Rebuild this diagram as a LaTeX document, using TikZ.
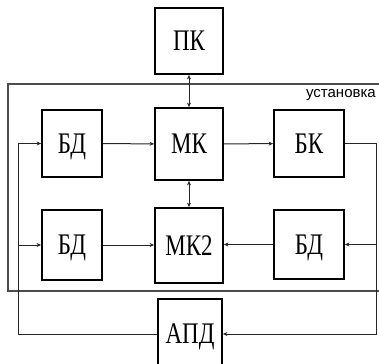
\documentclass[tikz,border=0pt]{standalone}
\usepackage{fontspec}
\setmainfont{Liberation Serif}
\newfontfamily\labfont{Liberation Sans}
\usetikzlibrary{arrows.meta}
\newcommand{\bt}[1]{\scalebox{1}[1.3]{#1}}
\begin{document}
\begin{tikzpicture}[x=1pt,y=-1pt,
  blk/.style={draw=black,line width=1.8pt,inner sep=0pt,text height=19.8pt,text depth=0pt,font=\fontsize{23}{26}\selectfont},
  con/.style={draw=black!85,line width=1pt},
  arr/.style={con,-{Stealth[length=4.5pt,width=4pt]}},
  dbl/.style={con,{Stealth[length=4.5pt,width=4pt]}-{Stealth[length=4.5pt,width=4pt]}}]
\useasboundingbox (0,0) rectangle (379,363);
\begin{scope}
\clip (0,0) rectangle (379,363);
\draw[draw=black!70,line width=1.2pt] (382,84) -- (8,84) -- (8,291) -- (382,291);
\node[blk,minimum width=68pt,minimum height=66pt] (pk) at (189,41) {\bt{ПК}};
\node[blk,minimum width=68pt,minimum height=72pt] (mk) at (189,144) {\bt{МК}};
\node[blk,minimum width=60pt,minimum height=67pt] (bd1) at (72,143.5) {\bt{БД}};
\node[blk,minimum width=70pt,minimum height=67pt] (bk) at (309,143.5) {\bt{БК}};
\node[blk,minimum width=60pt,minimum height=70pt] (bd2) at (72,245) {\bt{БД}};
\node[blk,minimum width=68pt,minimum height=75pt] (mk2) at (189,245.5) {\bt{МК2}};
\node[blk,minimum width=70pt,minimum height=69pt] (bd3) at (309,244.5) {\bt{БД}};
\node[blk,minimum width=64pt,minimum height=70pt] (apd) at (190,334) {\bt{АПД}};
\node[font=\labfont\fontsize{15}{16}\selectfont,anchor=east,inner sep=0pt] (lab) at (376,95) {установка};
\coordinate (R) at (376,0);
\coordinate (L) at (18,0);
\draw[dbl] (pk) -- (mk);
\draw[dbl] (mk) -- (mk2);
\draw[arr] (bd1) -- (mk);
\draw[arr] (mk) -- (bk);
\draw[arr] (bd2.east) -- (bd2.east -| mk2.west);
\draw[arr] (bd3.west) -- (bd3.west -| mk2.east);
\draw[arr] (bk.east) -- (bk.east -| R) -- (R |- apd.east) -- (apd.east);
\draw[arr] (R |- bd3.east) -- (bd3.east);
\draw[arr] (apd.west) -- (apd.west -| L) -- (L |- bd1.west) -- (bd1.west);
\draw[arr] (L |- bd2.west) -- (bd2.west);
\end{scope}
\end{tikzpicture}
\end{document}
